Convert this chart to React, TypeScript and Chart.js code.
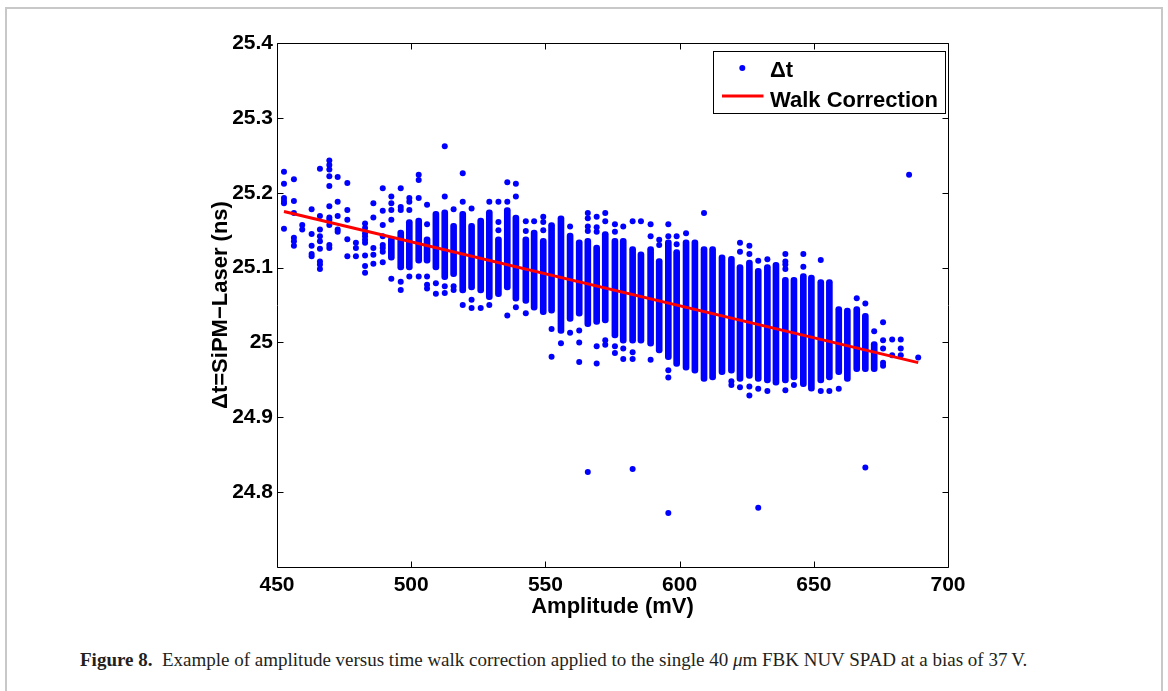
import React, { useEffect, useRef } from 'react';
import { Chart, registerables } from 'chart.js';

Chart.register(...registerables);

// Axis ticks
const xTicks = [450, 500, 550, 600, 650, 700];
const yTicks = [24.8, 24.9, 25, 25.1, 25.2, 25.3, 25.4];

// Dense vertical runs of overlapping Δt points (one run per amplitude column)
const bandAmplitude = [
  492.6, 496.1, 499.3, 502.8, 505.9, 509.2, 512.5, 515.8, 519.2, 522.5,
  525.9, 529.1, 532.5, 535.8, 539.0, 542.7, 545.8, 549.2, 552.3, 555.8,
  559.2, 562.6, 565.8, 569.1, 572.3, 575.9, 579.0, 582.5, 585.6, 589.2,
  592.4, 595.8, 598.9, 602.4, 605.7, 609.1, 612.3, 615.8, 619.3, 622.5,
  626.0, 629.3, 632.7, 635.9, 639.4, 642.6, 646.1, 649.1, 652.6, 655.8,
  659.3, 662.5, 666.0, 669.2, 672.5,
];
const bandLow = [
  25.110, 25.097, 25.097, 25.106, 25.106, 25.097, 25.084, 25.088, 25.066, 25.070,
  25.066, 25.057, 25.061, 25.070, 25.055, 25.052, 25.043, 25.037, 25.039, 25.012,
  25.028, 25.035, 25.021, 25.024, 25.026, 25.006, 24.999, 24.999, 24.999, 24.995,
  24.986, 24.977, 24.968, 24.963, 24.959, 24.948, 24.950, 24.957, 24.959, 24.948,
  24.952, 24.948, 24.946, 24.943, 24.946, 24.950, 24.941, 24.935, 24.946, 24.950,
  24.957, 24.948, 24.961, 24.961, 24.961,
];
const bandHigh = [
  25.141, 25.150, 25.164, 25.166, 25.141, 25.175, 25.177, 25.159, 25.175, 25.159,
  25.166, 25.177, 25.141, 25.180, 25.170, 25.141, 25.150, 25.139, 25.160, 25.169,
  25.146, 25.137, 25.139, 25.130, 25.148, 25.139, 25.139, 25.128, 25.121, 25.128,
  25.112, 25.137, 25.124, 25.137, 25.137, 25.128, 25.128, 25.117, 25.115, 25.104,
  25.110, 25.099, 25.104, 25.107, 25.087, 25.087, 25.092, 25.090, 25.084, 25.084,
  25.048, 25.046, 25.048, 25.039, 25.001,
];

// Separate Δt points, grouped by amplitude column
const dotAmplitude = [
  452.6, 456.3, 459.4, 462.9, 466.0, 469.5, 472.6, 476.2, 479.4, 482.8,
  485.9, 489.4, 492.6, 496.1, 499.3, 502.8, 505.9, 509.2, 512.5, 515.8,
  519.2, 522.5, 525.9, 529.1, 532.5, 535.8, 539.0, 542.7, 545.8, 549.2,
  552.3, 555.8, 559.2, 562.6, 565.8, 569.1, 572.3, 575.9, 579.0, 582.5,
  585.6, 589.2, 592.4, 595.8, 598.9, 602.4, 609.1, 619.3, 622.5, 626.0,
  629.3, 632.7, 639.4, 642.6, 646.1, 652.6, 655.8, 659.3, 666.0, 669.2,
  672.5, 675.8, 679.2, 682.4, 685.5, 688.9,
];
const dotDt = [
  [25.228, 25.212, 25.193, 25.189, 25.186, 25.152],
  [25.218, 25.189, 25.173, 25.140, 25.135, 25.129],
  [25.157, 25.151],
  [25.178, 25.145, 25.129, 25.118, 25.115],
  [25.232, 25.169, 25.151, 25.142, 25.135, 25.125, 25.108, 25.104, 25.098],
  [25.243, 25.237, 25.231, 25.222, 25.209, 25.182, 25.167, 25.164, 25.157, 25.130, 25.126],
  [25.221, 25.188, 25.169, 25.151, 25.148],
  [25.213, 25.177, 25.164, 25.138, 25.115],
  [25.133, 25.126, 25.115],
  [25.159, 25.153, 25.146, 25.142, 25.137, 25.133, 25.116, 25.102, 25.093],
  [25.186, 25.167, 25.126, 25.117, 25.105],
  [25.206, 25.176, 25.157, 25.142, 25.130, 25.126, 25.121, 25.107],
  [25.195, 25.186, 25.177, 25.164, 25.085],
  [25.206, 25.181, 25.177, 25.081, 25.070],
  [25.193, 25.188, 25.177, 25.088],
  [25.224, 25.217, 25.193, 25.088],
  [25.184, 25.158, 25.088, 25.077, 25.072],
  [25.079, 25.065],
  [25.262, 25.195, 25.075, 25.066],
  [25.178, 25.075, 25.070],
  [25.226, 25.188, 25.050],
  [25.179, 25.057, 25.046],
  [25.046],
  [25.188, 25.050],
  [25.188, 25.161, 25.150],
  [25.214, 25.188, 25.036],
  [25.212, 25.195, 25.047],
  [25.162, 25.149, 25.039],
  [25.162],
  [25.168, 25.161, 25.150],
  [25.018, 24.981],
  [24.999],
  [25.155, 25.013],
  [25.016, 25.000, 24.974],
  [25.173, 25.166, 25.155, 25.149, 24.827],
  [25.168, 25.154, 25.148, 24.995, 24.972],
  [25.173, 25.162, 25.003, 24.997],
  [25.158, 25.148, 24.995, 24.986],
  [25.155, 24.992, 24.978],
  [25.162, 24.987, 24.978, 24.831],
  [25.162],
  [25.158, 25.142, 24.977],
  [25.137, 25.130],
  [25.158, 25.142, 24.963, 24.953, 24.772],
  [25.142, 25.131],
  [25.146],
  [25.173],
  [24.948, 24.943],
  [25.133, 25.121, 24.940],
  [25.129, 25.118, 24.941, 24.929],
  [25.109, 24.938, 24.779],
  [25.111, 24.935],
  [25.118, 25.108, 25.104, 25.098, 24.936],
  [24.943],
  [25.118, 25.101],
  [25.110, 24.935],
  [24.935],
  [24.938],
  [25.059],
  [25.052, 24.833],
  [25.015],
  [25.027, 25.003, 24.992, 24.973, 24.969],
  [25.004, 24.983],
  [25.004, 24.992, 24.983],
  [25.224],
  [24.980],
];

// Walk correction fit line
const walkAmplitude = [452.6, 688.9];
const walkDt = [25.175, 24.973];

const BLUE = '#0000ff';
const RED = '#ff0000';
const SANS = '"Liberation Sans", Arial, Helvetica, sans-serif';

const boxPlugin = {
  id: 'matlabBox',
  afterDraw(chart: any) {
    const { ctx, chartArea: a, scales } = chart;
    const xs = scales.x;
    const ys = scales.y;
    const L = Math.round(a.left) + 0.5;
    const R = Math.round(a.right) + 0.5;
    const T = Math.round(a.top) + 0.5;
    const B = Math.round(a.bottom) + 0.5;
    ctx.save();
    ctx.strokeStyle = '#000';
    ctx.lineWidth = 1;
    ctx.beginPath();
    ctx.rect(L, T, R - L, B - T);
    const tl = 6;
    xTicks.forEach((v) => {
      const px = Math.round(xs.getPixelForValue(v)) + 0.5;
      ctx.moveTo(px, B);
      ctx.lineTo(px, B - tl);
      ctx.moveTo(px, T);
      ctx.lineTo(px, T + tl);
    });
    yTicks.forEach((v) => {
      const py = Math.round(ys.getPixelForValue(v)) + 0.5;
      ctx.moveTo(L, py);
      ctx.lineTo(L + tl, py);
      ctx.moveTo(R, py);
      ctx.lineTo(R - tl, py);
    });
    ctx.stroke();

    // Legend
    const lx = 713.5, ly = 51.5, lw = 232, lh = 62;
    ctx.fillStyle = '#fff';
    ctx.fillRect(lx, ly, lw, lh);
    ctx.strokeRect(lx, ly, lw, lh);
    ctx.fillStyle = BLUE;
    ctx.beginPath();
    ctx.arc(742.3, 68, 3, 0, Math.PI * 2);
    ctx.fill();
    ctx.strokeStyle = RED;
    ctx.lineWidth = 3;
    ctx.beginPath();
    ctx.moveTo(722, 96);
    ctx.lineTo(763.5, 96);
    ctx.stroke();
    ctx.fillStyle = '#000';
    ctx.font = `bold 22px ${SANS}`;
    ctx.textBaseline = 'alphabetic';
    ctx.textAlign = 'left';
    ctx.fillText('\u0394t', 770, 77);
    ctx.fillText('Walk Correction', 770, 107);
    ctx.restore();
  },
};

export default function App() {
  const ref = useRef<HTMLCanvasElement>(null);

  useEffect(() => {
    const bandData = bandAmplitude.map((a, i) => ({ x: a, y: [bandLow[i], bandHigh[i]] }));
    const dotData: { x: number; y: number }[] = [];
    dotAmplitude.forEach((a, i) => dotDt[i].forEach((v) => dotData.push({ x: a, y: v })));
    const walkData = walkAmplitude.map((a, i) => ({ x: a, y: walkDt[i] }));

    const tickFont = { family: SANS, size: 21, weight: 'bold' as const };
    const titleFont = { family: SANS, size: 22, weight: 'bold' as const };

    const chart = new Chart(ref.current as HTMLCanvasElement, {
      data: {
        datasets: [
          {
            type: 'line',
            label: 'Walk Correction',
            data: walkData,
            borderColor: RED,
            borderWidth: 3,
            pointRadius: 0,
            fill: false,
            order: 0,
          } as any,
          {
            type: 'bar',
            label: '\u0394t',
            data: bandData,
            backgroundColor: BLUE,
            barThickness: 6,
            borderRadius: 3,
            borderSkipped: false,
            grouped: false,
            order: 1,
          } as any,
          {
            type: 'scatter',
            label: '\u0394t',
            data: dotData,
            backgroundColor: BLUE,
            borderWidth: 0,
            pointRadius: 3,
            order: 1,
          } as any,
        ],
      },
      options: {
        animation: false,
        responsive: false,
        devicePixelRatio: 1,
        layout: { padding: { left: 208, right: 220, top: 43, bottom: 0 } },
        plugins: { legend: { display: false }, tooltip: { enabled: false } },
        scales: {
          x: {
            type: 'linear',
            min: 450,
            max: 700,
            offset: false,
            grid: { display: false, drawTicks: false },
            border: { display: false },
            afterBuildTicks: (s: any) => {
              s.ticks = xTicks.map((v) => ({ value: v }));
            },
            afterFit: (s: any) => {
              s.height = 53;
            },
            ticks: {
              font: tickFont,
              color: '#000',
              padding: 6,
              maxRotation: 0,
              autoSkip: false,
              callback: (v: any) => String(v),
            },
            title: { display: true, text: 'Amplitude (mV)', font: titleFont, color: '#000', padding: 0 },
          },
          y: {
            type: 'linear',
            min: 24.7,
            max: 25.4,
            grid: { display: false, drawTicks: false },
            border: { display: false },
            afterBuildTicks: (s: any) => {
              s.ticks = yTicks.map((v) => ({ value: v }));
            },
            afterFit: (s: any) => {
              s.width = 69;
            },
            ticks: {
              font: tickFont,
              color: '#000',
              padding: 4,
              autoSkip: false,
              callback: (v: any) => String(Number(Number(v).toFixed(1))),
            },
            title: { display: true, text: '\u0394t=SiPM\u2212Laser (ns)', font: titleFont, color: '#000', padding: 0 },
          },
        },
      } as any,
      plugins: [boxPlugin],
    });
    return () => chart.destroy();
  }, []);

  return (
    <div style={{ position: 'absolute', left: 0, top: 0, width: 1168, height: 691, overflow: 'hidden', background: '#fff' }}>
      <div
        style={{
          position: 'absolute',
          left: 5,
          top: 7,
          width: 1154,
          height: 720,
          borderTop: '2px solid #c8c8c8',
          borderLeft: '2px solid #c8c8c8',
          borderRight: '2px solid #c8c8c8',
        }}
      />
      <canvas ref={ref} width={1168} height={620} style={{ position: 'absolute', left: 0, top: 0, width: 1168, height: 620 }} />
      <div
        style={{
          position: 'absolute',
          left: 80,
          top: 650,
          whiteSpace: 'nowrap',
          fontFamily: '"Liberation Serif", "Times New Roman", serif',
          fontSize: 19,
          lineHeight: '19px',
          color: '#231f20',
        }}
      >
        <span style={{ fontWeight: 'bold' }}>Figure 8.</span>
        <span>{'\u2002Example of amplitude versus time walk correction applied to the single 40 '}</span>
        <span style={{ fontStyle: 'italic' }}>{'\u03bc'}</span>
        <span>{'m FBK NUV SPAD at a bias of 37\u2009V.'}</span>
      </div>
    </div>
  );
}
